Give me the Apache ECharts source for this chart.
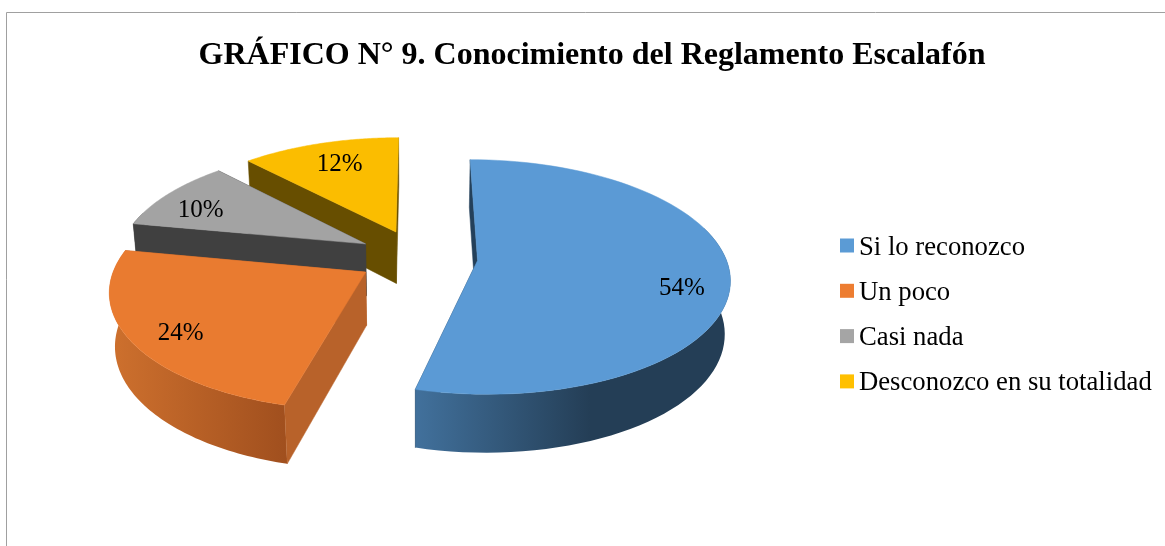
<!DOCTYPE html>
<html><head><meta charset="utf-8">
<style>html,body{margin:0;padding:0;background:#fff}#c{width:1165px;height:546px}</style>
<script src="https://cdn.jsdelivr.net/npm/echarts@6/dist/echarts.min.js"></script>
</head><body><div id="c"></div>
<script>
const categories = ['Si lo reconozco','Un poco','Casi nada','Desconozco en su totalidad'];
const values = [54,24,10,12];
const titleText = 'GRÁFICO N° 9. Conocimiento del Reglamento Escalafón';
const legendColors = ['#5b9bd5','#ed7d31','#a5a5a5','#ffc000'];
const topColors = ['#5b9ad5','#e97b30','#a3a3a3','#fbbd00'];
const radialColors = ['#24405a','#b8622a','#404040','#674e00'];
const arcGrad = [[['#41709b','#243e56'],[418,590]],[['#a04f1e','#cc6f2d'],[288,118]],[['#404040','#404040'],[130,220]],[['#674e00','#674e00'],[248,400]]];
const labelNudge = [[3,16],[0,7],[-5,7],[6,5]];
const P = {cx:417.5, cy:257, A:248, B:114, k:0.14, e:0.243, D:53.5, dw:0.018, labelR:0.8};
const total = values.reduce((a,b)=>a+b,0);
const starts = []; values.reduce((acc,v,i)=>{starts[i]=acc; return acc+v/total*2*Math.PI;},0);
function proj(X,Y,low){
  const w = 1+P.k*Y+(low?P.dw:0);
  return [P.cx+P.A*X/w, P.cy+(-P.B*Y+(low?P.D:0))/w];
}
function rim(ox,oy,r,t,low){return proj(ox+r*Math.sin(t),oy+r*Math.cos(t),low);}
function makeItem(i){
  return function(){
    const t0=starts[i], t1=t0+values[i]/total*2*Math.PI, mid=(t0+t1)/2;
    const ox=P.e*Math.sin(mid), oy=P.e*Math.cos(mid);
    const N=80, top=[], low=[], arcTop=[], arcLow=[];
    for(let n=0;n<=N;n++){
      const t=t0+(t1-t0)*n/N, p=rim(ox,oy,1,t,false), q=rim(ox,oy,1,t,true);
      top.push(p); low.push(q);
      if(Math.cos(t)<0.3){arcTop.push(p); arcLow.push(q);}
    }
    const a=proj(ox,oy,false), al=proj(ox,oy,true);
    const g=arcGrad[i];
    const fill=new echarts.graphic.LinearGradient(g[1][0],0,g[1][1],0,[{offset:0,color:g[0][0]},{offset:1,color:g[0][1]}],true);
    const wall=(pts,c)=>({type:'polygon',shape:{points:pts},style:{fill:c,stroke:c,lineWidth:0.5}});
    const lp=rim(ox,oy,P.labelR,mid,false);
    const kids=[wall([a,top[N],low[N],al],radialColors[i])];
    if(arcTop.length>1) kids.push({type:'polygon',shape:{points:arcTop.concat(arcLow.slice().reverse())},style:{fill}});
    kids.push(wall([a,top[0],low[0],al],radialColors[i]));
    kids.push(wall([a].concat(top),topColors[i]));
    kids.push({type:'text',z2:10,style:{x:lp[0]+labelNudge[i][0],y:lp[1]+labelNudge[i][1],text:values[i]+'%',fill:'#000',font:'25px "Liberation Serif"',align:'center',verticalAlign:'middle'}});
    return {type:'group',children:kids};
  };
}
const chart=echarts.init(document.getElementById('c'),null,{renderer:'canvas'});
chart.setOption({
  animation:false,
  backgroundColor:'#fff',
  title:{text:titleText,left:587,top:35,textAlign:'center',textStyle:{fontFamily:'Liberation Serif',fontWeight:'bold',fontSize:32,color:'#000'}},
  legend:{orient:'vertical',left:840,top:230,itemWidth:14,itemHeight:14,itemGap:14.3,padding:0,icon:'rect',selectedMode:false,data:categories,
    formatter:n=>'{t|'+n+'}',
    textStyle:{color:'#000',rich:{t:{fontFamily:'Liberation Serif',fontSize:26.7,color:'#000',lineHeight:28,padding:[4,0,0,0]}}}},
  graphic:[
    {type:'line',silent:true,shape:{x1:6.5,y1:12.5,x2:1165,y2:12.5},style:{stroke:'#a0a0a0',lineWidth:1}},
    {type:'line',silent:true,shape:{x1:6.5,y1:12.5,x2:6.5,y2:546},style:{stroke:'#a0a0a0',lineWidth:1}}
  ],
  series:categories.map((name,i)=>({type:'custom',name,coordinateSystem:'none',z:2+values.length-i,silent:true,
    itemStyle:{color:legendColors[i]},data:[values[i]],renderItem:makeItem(i)}))
});
</script></body></html>
